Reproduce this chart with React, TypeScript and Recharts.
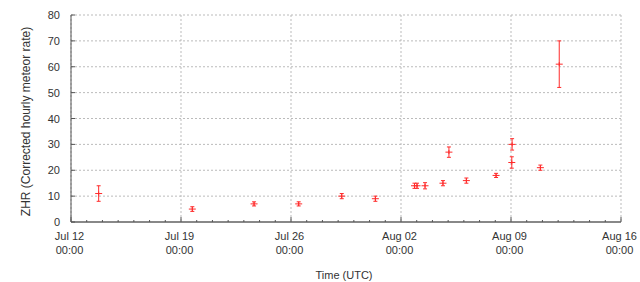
import { CartesianGrid, ErrorBar, Scatter, ScatterChart, XAxis, YAxis } from "recharts"

// days since Jul 12 00:00 UTC
const obsDays = [1.76, 7.72, 11.65, 14.49, 17.23, 19.37, 21.86, 22.02, 22.53, 23.67, 24.05, 25.16, 27.05, 28.05, 28.07, 29.87, 31.07]
const zhrValues = [11, 5, 7, 7, 10, 9, 14, 14, 14, 15, 27, 16, 18, 23, 30, 21, 61]
const zhrErrors = [3, 0.9, 0.8, 0.8, 1, 1, 1, 1, 1.2, 1, 2, 1, 0.8, 2.2, 2.2, 1, 9]

const majorDays = [0, 7, 14, 21, 28, 35]
const dateLabels = ["Jul 12", "Jul 19", "Jul 26", "Aug 02", "Aug 09", "Aug 16"]
const timeLabels = ["00:00", "00:00", "00:00", "00:00", "00:00", "00:00"]
const allDays = Array.from({ length: 36 }, (_, i) => i)
const yTicks = [0, 10, 20, 30, 40, 50, 60, 70, 80]

const data = obsDays.map((day, i) => ({ day, zhr: zhrValues[i], err: zhrErrors[i] }))

const FONT = '"Liberation Sans", Arial, sans-serif'
const TEXT = "#333"
const FRAME = "#555"
const RED = "#ff2a2a"

function BottomTick(props: any) {
  const { x, y, payload } = props
  const idx = majorDays.indexOf(payload.value)
  if (idx < 0) {
    return <line x1={x} x2={x} y1={y} y2={y - 2} stroke={FRAME} />
  }
  return (
    <g>
      <line x1={x} x2={x} y1={y} y2={y - 5} stroke={FRAME} />
      <text x={x - 1.5} y={y + 18} textAnchor="middle" fontSize={11} fontFamily={FONT} fill={TEXT}>
        {dateLabels[idx]}
      </text>
      <text x={x - 1.5} y={y + 32} textAnchor="middle" fontSize={11} fontFamily={FONT} fill={TEXT}>
        {timeLabels[idx]}
      </text>
    </g>
  )
}

function TopTick(props: any) {
  const { x, y, payload } = props
  const major = majorDays.includes(payload.value)
  return <line x1={x} x2={x} y1={y} y2={y + (major ? 5 : 2)} stroke={FRAME} />
}

function LeftTick(props: any) {
  const { x, y, payload } = props
  return (
    <g>
      <line x1={x} x2={x + 4} y1={y} y2={y} stroke={FRAME} />
      <text x={x - 11} y={y + 4} textAnchor="end" fontSize={11} fontFamily={FONT} fill={TEXT}>
        {payload.value}
      </text>
    </g>
  )
}

function RightTick(props: any) {
  const { x, y } = props
  return <line x1={x} x2={x - 4} y1={y} y2={y} stroke={FRAME} />
}

function PlusMark(props: any) {
  const { cx, cy } = props
  if (cx == null || cy == null) return <g />
  return (
    <path d={`M${cx - 3.5},${cy}h7M${cx},${cy - 2}v4`} stroke={RED} strokeWidth={1} fill="none" />
  )
}

export default function App() {
  return (
    <div style={{ position: "absolute", left: 0, top: 0, width: 640, height: 282, background: "#fff" }}>
      <ScatterChart width={640} height={282} margin={{ top: 15, right: 19, bottom: 0, left: 0 }}>
        <CartesianGrid
          stroke="#bbb"
          strokeDasharray="2 2"
          verticalValues={majorDays}
          horizontalValues={yTicks}
        />
        <XAxis
          dataKey="day"
          type="number"
          domain={[0, 35]}
          ticks={allDays}
          interval={0}
          height={60}
          tickSize={0}
          tickMargin={0}
          tickLine={false}
          tick={<BottomTick />}
          axisLine={{ stroke: "#888", strokeWidth: 2 }}
          label={{
            value: "Time (UTC)",
            position: "insideBottom",
            offset: 3,
            fontSize: 11,
            fontFamily: FONT,
            fill: TEXT,
            dx: -2,
          }}
        />
        <XAxis
          xAxisId="top"
          orientation="top"
          type="number"
          domain={[0, 35]}
          ticks={allDays}
          interval={0}
          height={0}
          tickSize={0}
          tickMargin={0}
          tickLine={false}
          tick={<TopTick />}
          axisLine={{ stroke: FRAME }}
        />
        <YAxis
          type="number"
          domain={[0, 80]}
          ticks={yTicks}
          interval={0}
          width={71}
          tickSize={0}
          tickMargin={0}
          tickLine={false}
          tick={<LeftTick />}
          axisLine={{ stroke: FRAME }}
          label={{
            value: "ZHR (Corrected hourly meteor rate)",
            position: "insideLeft",
            content: (p: any) => {
              const vb = p.viewBox
              const cy = vb.y + vb.height / 2 + 3
              return (
                <text
                  x={0}
                  y={0}
                  transform={`translate(30,${cy}) rotate(-90)`}
                  textAnchor="middle"
                  fontSize={12}
                  fontFamily={FONT}
                  fill={TEXT}
                >
                  ZHR (Corrected hourly meteor rate)
                </text>
              )
            },
          }}
        />
        <YAxis
          yAxisId="right"
          orientation="right"
          type="number"
          domain={[0, 80]}
          ticks={yTicks}
          interval={0}
          width={0}
          tickSize={0}
          tickMargin={0}
          tickLine={false}
          tick={<RightTick />}
          axisLine={{ stroke: FRAME }}
        />
        <Scatter data={data} dataKey="zhr" shape={<PlusMark />} isAnimationActive={false}>
          <ErrorBar dataKey="err" direction="y" width={2} stroke={RED} strokeWidth={1} />
        </Scatter>
      </ScatterChart>
    </div>
  )
}
